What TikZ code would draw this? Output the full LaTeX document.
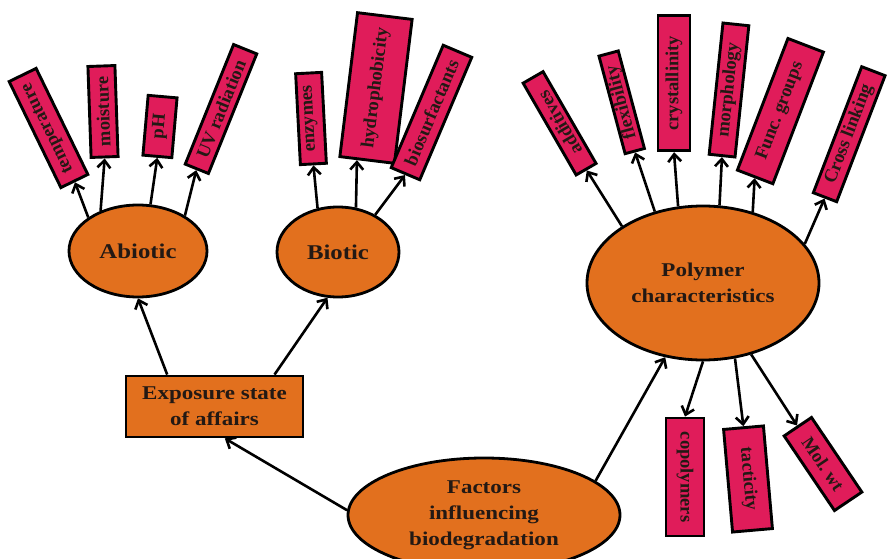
\documentclass[tikz,border=0pt]{standalone}
\usepackage{fontspec}
\setmainfont{Liberation Serif}
\newfontfamily\orfont[FakeStretch=1.18]{Liberation Serif}
\usetikzlibrary{shapes.geometric,arrows.meta,calc}
\definecolor{pinkc}{RGB}{224,28,90}
\definecolor{orangec}{RGB}{226,112,30}
\definecolor{inkc}{RGB}{35,25,20}
\tikzset{
  orn/.style={draw=black, line width=2.8pt, fill=orangec, text=inkc,
    font=\orfont\bfseries\fontsize{19.5}{26}\selectfont, align=center, inner sep=0pt},
  ovalnode/.style={orn, ellipse},
  boxnode/.style={orn, rectangle},
  pk/.style={draw=black, line width=2.9pt, fill=pinkc, text=inkc,
    font=\bfseries\fontsize{18.5}{20}\selectfont, inner sep=0pt},
  arr/.style={line width=2.6pt, draw=black, -{Straight Barb[length=7.5pt,width=13pt]}},
}
\begin{document}
\begin{tikzpicture}[x=1pt,y=-1pt]
\fill[white] (0,0) rectangle (887,559);
\useasboundingbox (0,0) rectangle (887,559);

% main nodes
\node[ovalnode, minimum width=138, minimum height=92, font=\orfont\bfseries\fontsize{21}{26}\selectfont] (abiotic) at (138,251) {Abiotic};
\node[ovalnode, minimum width=122, minimum height=90, font=\orfont\bfseries\fontsize{21}{26}\selectfont] (biotic) at (338,252) {Biotic};
\node[ovalnode, minimum width=232, minimum height=154] (polymer) at (703,283) {Polymer\\characteristics};
\node[boxnode, minimum width=177, minimum height=61] (expo) at (214.5,406.5) {Exposure state\\of affairs};
\node[ovalnode, minimum width=272, minimum height=114] (factors) at (484,515) {Factors\\influencing\\biodegradation};

% pink boxes: abiotic
\node[pk, rotate=116, minimum width=118, minimum height=30] (temp) at (48.5,128) {temperature};
\node[pk, rotate=92, minimum width=91, minimum height=27] (moist) at (103,111.5) {moisture};
\node[pk, rotate=85, minimum width=60, minimum height=29] (ph) at (160,126.5) {pH};
\node[pk, rotate=68, minimum width=129, minimum height=25] (uv) at (221,109) {UV radiation};
% biotic
\node[pk, rotate=93, minimum width=91, minimum height=26] (enz) at (311,118.5) {enzymes};
\node[pk, rotate=83, minimum width=145, minimum height=55] (hydro) at (376,88) {hydrophobicity};
\node[pk, rotate=67, minimum width=133, minimum height=31] (bios) at (431.5,112.5) {biosurfactants};
% polymer top
\node[pk, rotate=120, minimum width=106, minimum height=23] (add) at (559.6,123.3) {additives};
\node[pk, rotate=105, minimum width=101, minimum height=20] (flex) at (621.7,102.3) {flexibility};
\node[pk, rotate=90, minimum width=135, minimum height=32] (cryst) at (674,83.3) {crystallinity};
\node[pk, rotate=84, minimum width=132, minimum height=26] (morph) at (729,90) {morphology};
\node[pk, rotate=69, minimum width=141, minimum height=38] (func) at (780.4,111.1) {Func.\ groups};
\node[pk, rotate=69, minimum width=135, minimum height=25] (cross) at (849.2,134.2) {Cross linking};
% polymer bottom
\node[pk, rotate=-90, minimum width=118, minimum height=38] (copol) at (685,477) {copolymers};
\node[pk, rotate=-85, minimum width=103, minimum height=40] (tact) at (748,479) {tacticity};
\node[pk, rotate=-56, minimum width=90, minimum height=33] (molwt) at (823,464) {Mol.\ wt};

% connectors
\draw[arr] (factors.178) -- (expo.-72);
\draw[arr] (factors.17) -- (polymer.-117);
\draw[arr] (expo.146) -- (abiotic.-90);
\draw[arr] (expo.28) -- (biotic.-103);

\draw[arr] (abiotic.146) -- (temp.west);
\draw[arr] (abiotic.133) -- (moist.west);
\draw[arr] (abiotic.75) -- (ph.west);
\draw[arr] (abiotic.37) -- (uv.west);

\draw[arr] (biotic.115) -- (enz.west);
\draw[arr] (biotic.68) -- ($(hydro.west)!0.35!(hydro.north west)$);
\draw[arr] (biotic.45) -- (bios.west);

\draw[arr] (polymer.145) -- (add.west);
\draw[arr] (polymer.124) -- (flex.west);
\draw[arr] (polymer.108) -- (cryst.west);
\draw[arr] (polymer.78) -- (morph.west);
\draw[arr] (polymer.55) -- (func.west);
\draw[arr] (polymer.21.5) -- (cross.west);

\draw[arr] (polymer.-90) -- (copol.west);
\draw[arr] (polymer.-67) -- (tact.west);
\draw[arr] (polymer.-56) -- (molwt.west);
\end{tikzpicture}
\end{document}
